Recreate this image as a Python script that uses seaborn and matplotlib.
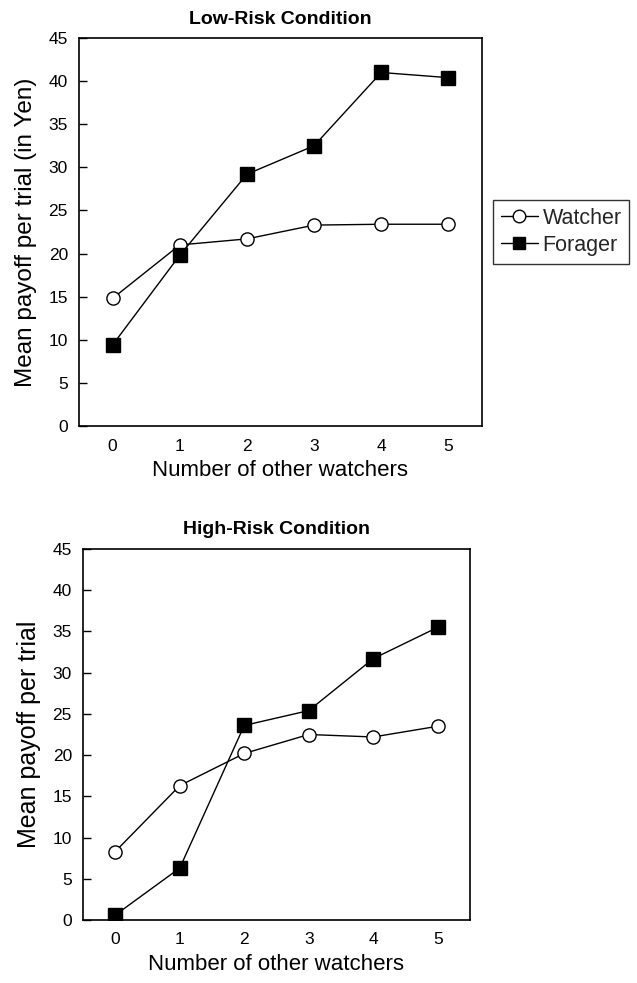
import matplotlib
matplotlib.use("Agg")
import matplotlib.pyplot as plt
import seaborn as sns
import pandas as pd

watchers = [0, 1, 2, 3, 4, 5]
low_watcher = [14.8, 21.0, 21.7, 23.3, 23.4, 23.4]
low_forager = [9.4, 19.8, 29.2, 32.5, 41.0, 40.4]
high_watcher = [8.3, 16.3, 20.2, 22.5, 22.2, 23.5]
high_forager = [0.6, 6.3, 23.6, 25.4, 31.7, 35.5]
yticks = [0, 5, 10, 15, 20, 25, 30, 35, 40, 45]

sns.set_theme(style="ticks")
plt.rcParams['font.family'] = ['Liberation Sans', 'DejaVu Sans']

fig = plt.figure(figsize=(6.37, 9.83), dpi=100)
ax1 = fig.add_axes([79 / 637, 1 - 426 / 983, 403 / 637, 388 / 983])
ax2 = fig.add_axes([83 / 637, 1 - 920 / 983, 387 / 637, 371 / 983])


def draw(ax, w, f, title, ylabel, ylabel_size, title_pad):
    dfw = pd.DataFrame({"x": watchers, "y": w})
    dff = pd.DataFrame({"x": watchers, "y": f})
    sns.lineplot(data=dfw, x="x", y="y", ax=ax, color="black", marker="o",
                 markersize=9.5, markerfacecolor="white", markeredgecolor="black",
                 markeredgewidth=1.0, linewidth=1.0, label="Watcher", zorder=3)
    sns.lineplot(data=dff, x="x", y="y", ax=ax, color="black", marker="s",
                 markersize=9.5, markerfacecolor="black", markeredgecolor="black",
                 markeredgewidth=1.0, linewidth=1.0, label="Forager", zorder=4)
    ax.set_xlim(-0.5, 5.5)
    ax.set_ylim(0, 45)
    ax.set_xticks(watchers)
    ax.set_yticks(yticks)
    ax.tick_params(axis="x", labelsize=12.5, length=0, pad=9, labelcolor="black")
    ax.tick_params(axis="y", labelsize=12.5, direction="in", length=6, width=1,
                   pad=8, color="black", labelcolor="black")
    for s in ax.spines.values():
        s.set_visible(True)
        s.set_color("black")
        s.set_linewidth(1.2)
    ax.set_xlabel("Number of other watchers", fontsize=16, color="black", labelpad=5)
    ax.set_ylabel(ylabel, fontsize=ylabel_size, color="black", labelpad=8)
    ax.set_title(title, fontsize=14, fontweight="bold", color="black", pad=title_pad)
    ax.grid(False)


draw(ax1, low_watcher, low_forager, "Low-Risk Condition", "Mean payoff per trial (in Yen)", 17.5, 10)
draw(ax2, high_watcher, high_forager, "High-Risk Condition", "Mean payoff per trial", 18, 11)

handles, labels = ax1.get_legend_handles_labels()
ax1.get_legend().remove()
ax2.get_legend().remove()
leg = fig.legend(handles, labels, loc="upper left", bbox_to_anchor=(493 / 637, 1 - 200 / 983),
                 fontsize=15.5, frameon=True, fancybox=False, edgecolor="black",
                 handlelength=1.75, handletextpad=0.2, borderpad=0.35, labelspacing=0.3,
                 borderaxespad=0, markerscale=0.95)
leg.get_frame().set_linewidth(1.0)

fig.savefig("out.png", dpi=100, facecolor="white")
